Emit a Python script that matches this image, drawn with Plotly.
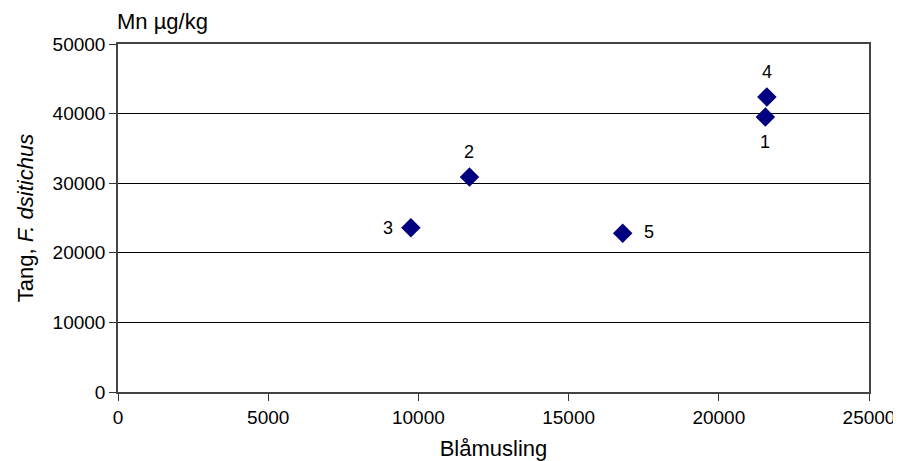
import plotly.graph_objects as go

labels = ["1", "2", "3", "4", "5"]
blamusling = [21550, 11700, 9750, 21600, 16800]
tang = [39500, 30900, 23600, 42400, 22800]
label_shift = [(0, -25), (0, 25), (-23, 0), (0, 25), (26, 1)]

FONT = "Liberation Sans, Arial"

fig = go.Figure()
fig.add_trace(go.Scatter(
    x=blamusling, y=tang, mode="markers",
    marker=dict(symbol="diamond", size=15, color="#000080", line=dict(width=0)),
    cliponaxis=False, showlegend=False,
))

annotations = [dict(text="Mn µg/kg", xref="paper", yref="paper", x=0, y=1, xanchor="left",
                    yanchor="bottom", yshift=8, xshift=-3, showarrow=False,
                    font=dict(family=FONT, size=22, color="black"))]
for lab, xv, yv, (dx, dy) in zip(labels, blamusling, tang, label_shift):
    annotations.append(dict(text=lab, x=xv, y=yv, xref="x", yref="y", showarrow=False,
                            xshift=dx, yshift=dy, xanchor="center", yanchor="middle",
                            font=dict(family=FONT, size=18, color="black")))

axis_font = dict(family=FONT, size=19, color="black")
fig.update_layout(
    width=901, height=461,
    margin=dict(l=110, r=40, t=36, b=77),
    paper_bgcolor="white", plot_bgcolor="white",
    font=dict(family=FONT, color="black"),
    xaxis=dict(range=[0, 25000], tickvals=[0, 5000, 10000, 15000, 20000, 25000],
               tickformat="d", automargin=False,
               ticks="outside", ticklen=7, tickcolor="#333", tickfont=axis_font,
               showgrid=False, zeroline=False, showline=True, linecolor="#444", linewidth=1.5,
               mirror=True,
               title=dict(text="Blåmusling", font=dict(family=FONT, size=22), standoff=14)),
    yaxis=dict(range=[0, 50000], tickvals=[0, 10000, 20000, 30000, 40000, 50000],
               tickformat="d", automargin=False,
               ticks="outside", ticklen=7, tickcolor="#333", tickfont=axis_font,
               showgrid=True, gridcolor="black", gridwidth=1,
               zeroline=False, showline=True, linecolor="#444", linewidth=1.5, mirror=True,
               title=dict(text="Tang, <i>F. dsitichus</i>", font=dict(family=FONT, size=22), standoff=13)),
    annotations=annotations,
)
fig.write_html("out.html")
